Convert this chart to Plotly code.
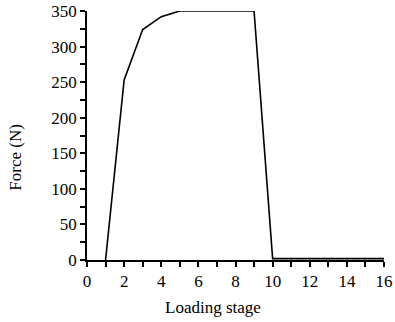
import plotly.graph_objects as go

# Loading stages and measured force (N)
stage = [1, 2, 3, 4, 5, 6, 7, 8, 9, 10, 11, 12, 13, 14, 15, 16]
force = [0, 253, 324, 342, 350, 350, 350, 350, 350, 2, 2, 2, 2, 2, 2, 2]

x_ticks = [0, 2, 4, 6, 8, 10, 12, 14, 16]
y_ticks = [0, 50, 100, 150, 200, 250, 300, 350]

font = dict(family="Liberation Serif, Times New Roman, serif", size=17, color="black")

fig = go.Figure(go.Scatter(x=stage, y=force, mode="lines",
                           line=dict(color="black", width=1.6),
                           showlegend=False, cliponaxis=False))

axis_common = dict(showline=True, linecolor="black", linewidth=1.5,
                   ticks="outside", ticklen=5, tickwidth=1.5, tickcolor="black",
                   showgrid=False, zeroline=False, tickfont=font,
                   mirror=False, automargin=False)

fig.update_xaxes(range=[0, 16], tickvals=x_ticks,
                 minor=dict(dtick=1, ticks="outside", ticklen=5, tickwidth=1.5, tickcolor="black"),
                 **axis_common)
fig.update_yaxes(range=[0, 350], tickvals=y_ticks,
                 minor=dict(dtick=25, ticks="outside", ticklen=5, tickwidth=1.5, tickcolor="black"),
                 **axis_common)

# Axis titles placed as annotations (paper coordinates)
fig.add_annotation(text="Loading stage", xref="paper", yref="paper",
                   x=0.424, y=-0.19, xanchor="center", yanchor="middle",
                   showarrow=False, font=font)
fig.add_annotation(text="Force (N)", xref="paper", yref="paper",
                   x=-0.24, y=0.414, xanchor="center", yanchor="middle", textangle=-90,
                   showarrow=False, font=font)

fig.update_layout(width=395, height=322, margin=dict(l=87, r=11, t=11, b=62),
                  plot_bgcolor="white", paper_bgcolor="white", font=font)

fig.write_html("out.html")
